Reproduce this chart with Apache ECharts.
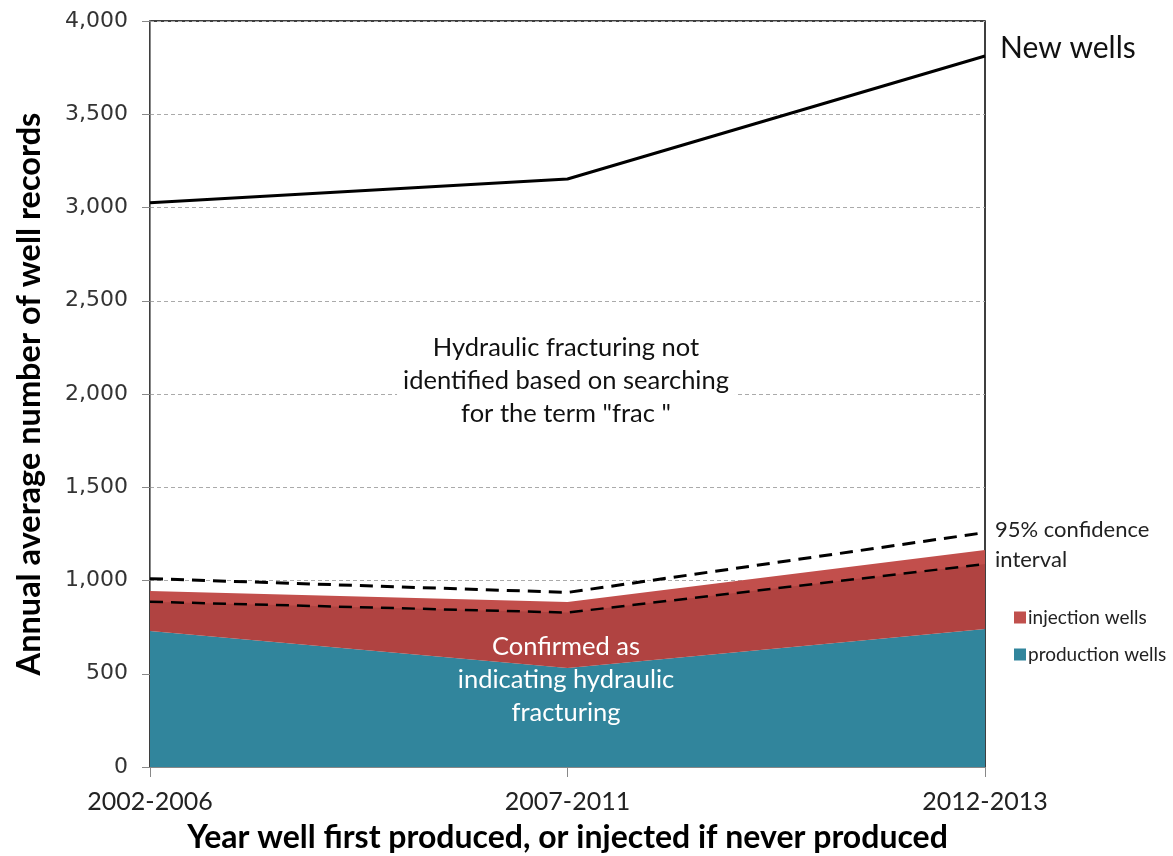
<!DOCTYPE html>
<html>
<head>
<meta charset="utf-8">
<script src="https://cdn.jsdelivr.net/npm/echarts@6/dist/echarts.min.js"></script>
<style>
html,body{margin:0;padding:0;background:#fff;}
#chart{width:1173px;height:856px;}
</style>
</head>
<body>
<div id="chart"></div>
<script>
const categories = ['2002-2006', '2007-2011', '2012-2013'];
const newWells = [3025, 3153, 3812];
const productionWells = [729, 531, 740];
const injectionWells = [215, 354, 423];
const ciUpper = [1010, 936, 1257];
const ciLower = [886, 828, 1088];
const yTicks = [0, 500, 1000, 1500, 2000, 2500, 3000, 3500, 4000];

const chart = echarts.init(document.getElementById('chart'));
const band = ciLower.map((v, i) => v - productionWells[i]);
const titleFont = 'Lato, "Open Sans", sans-serif';

chart.setOption({
  animation: false,
  backgroundColor: '#fff',
  grid: {left: 150, right: 188, top: 21, bottom: 89, containLabel: false, outerBoundsMode: 'none',
    show: true, borderColor: '#000', borderWidth: 1.5, backgroundColor: 'transparent'},
  legend: {
    data: ['injection wells', 'production wells'],
    orient: 'vertical', left: 1009, top: 603,
    icon: 'rect', itemWidth: 12, itemHeight: 12, itemGap: 18,
    textStyle: {fontFamily: titleFont, fontSize: 19, color: '#222', padding: [0, 0, 0, -3]}
  },
  xAxis: {
    type: 'category', data: categories, boundaryGap: false,
    name: 'Year well first produced, or injected if never produced',
    nameLocation: 'middle', nameGap: 55,
    nameTextStyle: {fontFamily: titleFont, fontWeight: 'bold', fontSize: 32, color: '#000'},
    axisLine: {lineStyle: {color: '#888', width: 1}},
    axisTick: {show: true, alignWithLabel: true, length: 10, lineStyle: {color: '#888'}},
    axisLabel: {fontFamily: titleFont, fontSize: 25, color: '#222', margin: 22}
  },
  yAxis: {
    type: 'value', min: 0, max: 4000, interval: 500,
    name: 'Annual average number of well records',
    nameLocation: 'middle', nameGap: 104,
    nameTextStyle: {fontFamily: titleFont, fontWeight: 'bold', fontSize: 32.5, color: '#000'},
    axisLine: {show: true, lineStyle: {color: '#888', width: 1}},
    axisTick: {show: true, length: 8, lineStyle: {color: '#888'}},
    axisLabel: {fontFamily: 'DejaVu Sans', fontSize: 22, color: '#333', margin: 22,
      formatter: v => yTicks.includes(v) ? v.toLocaleString('en-US') : ''},
    splitLine: {show: true, lineStyle: {color: '#aaa', type: [4, 3], width: 1}}
  },
  series: [
    {name: 'production wells', type: 'line', stack: 'a', data: productionWells, symbol: 'none',
      lineStyle: {width: 0}, areaStyle: {color: '#31859C', opacity: 1}, itemStyle: {color: '#31859C'}, z: 2},
    {name: 'injection wells', type: 'line', stack: 'a', data: injectionWells, symbol: 'none',
      lineStyle: {width: 0}, areaStyle: {color: '#C24F4C', opacity: 1}, itemStyle: {color: '#C0504D'}, z: 2},
    {name: 'base', type: 'line', stack: 'b', data: productionWells, symbol: 'none',
      lineStyle: {width: 0}, areaStyle: {opacity: 0}, z: 3, silent: true},
    {name: 'lowerShade', type: 'line', stack: 'b', data: band, symbol: 'none',
      lineStyle: {width: 0}, areaStyle: {color: 'rgba(70,0,0,0.14)', opacity: 1}, z: 3, silent: true},
    {name: 'ciUpper', type: 'line', data: ciUpper, symbol: 'none',
      lineStyle: {color: '#000', width: 3, type: [13, 8]}, z: 5},
    {name: 'ciLower', type: 'line', data: ciLower, symbol: 'none',
      lineStyle: {color: '#000', width: 2.5, type: [13, 8]}, z: 5},
    {name: 'New wells', type: 'line', data: newWells, symbol: 'none',
      lineStyle: {color: '#000', width: 3}, z: 5}
  ],
  graphic: [
    {type: 'text', left: 1000, top: 33, style: {text: 'New wells', font: '30px ' + titleFont, fill: '#111'}},
    {type: 'text', left: 995, top: 519, style: {text: '95% confidence', font: '22px ' + titleFont, fill: '#222'}},
    {type: 'text', left: 995, top: 549, style: {text: 'interval', font: '22px ' + titleFont, fill: '#222'}},
    {type: 'text', x: 566, y: 381, style: {
      text: 'Hydraulic fracturing not\nidentified based on searching\nfor the term "frac "',
      font: '25.5px ' + titleFont, fill: '#111', align: 'center', verticalAlign: 'middle', lineHeight: 33,
      backgroundColor: '#fff', padding: [2, 6]}, z: 10},
    {type: 'text', x: 566, y: 680, style: {
      text: 'Confirmed as\nindicating hydraulic\nfracturing',
      font: '25.5px ' + titleFont, fill: '#fff', align: 'center', verticalAlign: 'middle', lineHeight: 33}, z: 10}
  ]
});
</script>
</body>
</html>
